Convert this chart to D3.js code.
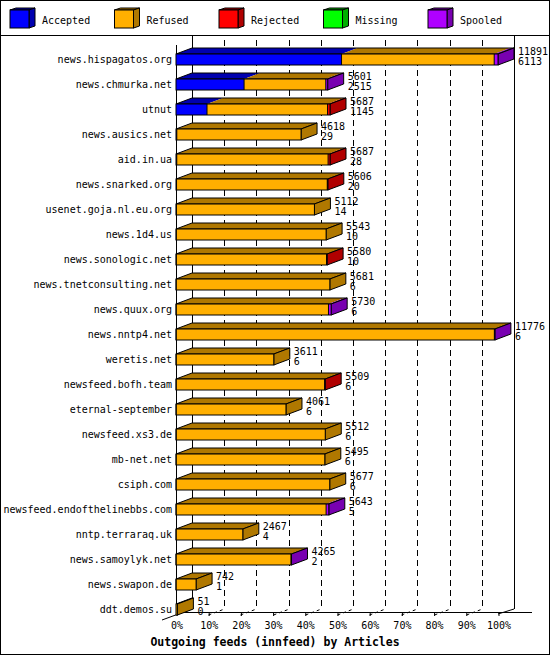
<!DOCTYPE html>
<html><head><meta charset="utf-8">
<script src="https://cdn.jsdelivr.net/npm/d3@7"></script>
<style>
html,body{margin:0;padding:0;background:#fff;}
text{font-family:"DejaVu Sans Mono",monospace;}
</style></head>
<body>
<svg id="c" width="550" height="655"></svg>
<script>
const hosts = ["news.hispagatos.org","news.chmurka.net","utnut","news.ausics.net","aid.in.ua","news.snarked.org","usenet.goja.nl.eu.org","news.1d4.us","news.sonologic.net","news.tnetconsulting.net","news.quux.org","news.nntp4.net","weretis.net","newsfeed.bofh.team","eternal-september","newsfeed.xs3.de","mb-net.net","csiph.com","newsfeed.endofthelinebbs.com","nntp.terraraq.uk","news.samoylyk.net","news.swapon.de","ddt.demos.su"];
const offered  = [11891,5601,5687,4618,5687,5606,5112,5543,5580,5681,5730,11776,3611,5509,4061,5512,5495,5677,5643,2467,4265,742,51];
const accepted = [6113,2515,1145,29,28,20,14,10,10,6,6,6,6,6,6,6,6,6,5,4,2,1,0];
const refused  = [5638,3016,4452,4589,5589,5566,5098,5533,5550,5675,5624,11750,3605,5483,4055,5506,5489,5671,5538,2463,4243,741,51];
const rejected = [0,0,90,0,70,20,0,0,20,0,0,0,0,20,0,0,0,0,0,0,0,0,0];
const missing  = [0,0,0,0,0,0,0,0,0,0,0,0,0,0,0,0,0,0,0,0,0,0,0];
const spooled  = [140,70,0,0,0,0,0,0,0,0,100,20,0,0,0,0,0,0,100,0,20,0,0];
const seriesNames = ["Accepted","Refused","Rejected","Missing","Spooled"];
const pctTicks = [0,10,20,30,40,50,60,70,80,90,100];
const title = "Outgoing feeds (innfeed) by Articles";

const front = ["#0000ff","#ffaf00","#ff0000","#00ff00","#af00ff"];
const dark  = ["#0000b0","#b07800","#b00000","#00b000","#7800b0"];
const series = [accepted, refused, rejected, missing, spooled];

const svg = d3.select("#c");
const DX = 16, DY = 6, BH = 11;
const X0 = 176, X1 = 498;
const maxV = d3.max(offered);
const xs = d3.scaleLinear().domain([0, maxV]).range([X0, X1]);
const xp = d3.scaleLinear().domain([0, 100]).range([X0, X1]);
const ys = d3.scaleBand().domain(hosts).range([47, 47 + 25*hosts.length]).paddingInner(0).paddingOuter(0);
const FLOOR = 612;

// frame
svg.append("rect").attr("x",0.5).attr("y",0.5).attr("width",549).attr("height",654).attr("fill","#fff").attr("stroke","#000");
svg.append("line").attr("x1",0).attr("x2",550).attr("y1",35.5).attr("y2",35.5).attr("stroke","#000");

// legend
seriesNames.forEach((n,k)=>{
  const x0 = 10 + 104.5*k, y0 = 10, w = 19, h = 18, dx = 6, dy = 2;
  const g = svg.append("g");
  g.append("polygon").attr("points",[[x0,y0],[x0+dx,y0-dy],[x0+w+dx,y0-dy],[x0+w,y0]].join(" ")).attr("fill",dark[k]).attr("stroke","#000");
  g.append("polygon").attr("points",[[x0+w,y0],[x0+w+dx,y0-dy],[x0+w+dx,y0+h-dy],[x0+w,y0+h]].join(" ")).attr("fill",dark[k]).attr("stroke","#000");
  g.append("rect").attr("x",x0).attr("y",y0).attr("width",w).attr("height",h).attr("fill",front[k]).attr("stroke","#000");
  g.append("text").attr("x",x0+32).attr("y",24).attr("font-size","10px").text(n);
});

// back wall lines
svg.append("line").attr("x1",X0+DX+0.5).attr("x2",X0+DX+0.5).attr("y1",36).attr("y2",FLOOR-3).attr("stroke","#000");
svg.append("line").attr("x1",X1+DX+0.5).attr("x2",X1+DX+0.5).attr("y1",36).attr("y2",FLOOR-3).attr("stroke","#000");
// dashed grid
pctTicks.filter(p=>p>0 && p<100).forEach(p=>{
  const xb = Math.round(xp(p)) + DX + 0.5;
  svg.append("line").attr("x1",xb).attr("x2",xb).attr("y1",40).attr("y2",FLOOR-3).attr("stroke","#000").attr("stroke-dasharray","6,4");
  svg.append("line").attr("x1",Math.round(xp(p))+0.5).attr("x2",xb).attr("y1",FLOOR+3).attr("y2",FLOOR-3).attr("stroke","#000").attr("stroke-dasharray","3,3");
});
// floor
svg.append("line").attr("x1",X0).attr("x2",532).attr("y1",FLOOR+0.5).attr("y2",FLOOR+0.5).attr("stroke","#000");
svg.append("line").attr("x1",X0-14).attr("x2",X0+DX).attr("y1",FLOOR+8).attr("y2",FLOOR-3).attr("stroke","#000");
svg.append("line").attr("x1",X1).attr("x2",X1+DX).attr("y1",FLOOR+2).attr("y2",FLOOR-3).attr("stroke","#000");
// front axis
svg.append("line").attr("x1",X0+0.5).attr("x2",X0+0.5).attr("y1",45).attr("y2",FLOOR+2).attr("stroke","#000");

// x axis labels
const ax = svg.append("g").attr("transform",`translate(0.5,${FLOOR})`)
  .call(d3.axisBottom(xp).tickValues(pctTicks).tickFormat(d=>d+"%").tickSize(4).tickPadding(6));
ax.select(".domain").remove();
ax.selectAll("line").attr("stroke","#000");
ax.selectAll("text").attr("font-size","10px").attr("font-family","DejaVu Sans Mono").attr("fill","#000");

// bars
hosts.forEach((h,i)=>{
  const top = ys(h) + 7, bot = top + BH;
  const g = svg.append("g");
  let cum = 0, last = -1;
  const segs = [];
  series.forEach((s,k)=>{
    const v = s[i];
    if (v > 0) { segs.push({k, a:cum, b:cum+v}); cum += v; last = k; }
  });
  segs.forEach(sg=>{
    const a = xs(sg.a), b = xs(sg.b);
    g.append("polygon").attr("points",[[a,top],[a+DX,top-DY],[b+DX,top-DY],[b,top]].join(" ")).attr("fill",dark[sg.k]);
  });
  const xe = xs(cum);
  g.append("polygon").attr("points",[[X0,top],[X0+DX,top-DY],[xe+DX,top-DY],[xe,top]].join(" ")).attr("fill","none").attr("stroke","#000");
  g.append("polygon").attr("points",[[xe,top],[xe+DX,top-DY],[xe+DX,bot-DY],[xe,bot]].join(" ")).attr("fill",dark[last]).attr("stroke","#000");
  segs.forEach(sg=>{
    g.append("rect").attr("x",xs(sg.a)).attr("y",top).attr("width",xs(sg.b)-xs(sg.a)).attr("height",BH)
      .attr("fill",front[sg.k]).attr("stroke","none");
  });
  segs.forEach((sg,j)=>{
    if (j>0) g.append("line").attr("x1",xs(sg.a)).attr("x2",xs(sg.a)).attr("y1",top).attr("y2",bot).attr("stroke","#000");
  });
  g.append("rect").attr("x",X0).attr("y",top).attr("width",xe-X0).attr("height",BH).attr("fill","none").attr("stroke","#000");
  svg.append("text").attr("x",172).attr("y",top+9).attr("text-anchor","end").attr("font-size","10px").text(h);
  svg.append("text").attr("x",xe+DX+4).attr("y",top+0.5).attr("font-size","10px").text(offered[i]);
  svg.append("text").attr("x",xe+DX+4).attr("y",top+11).attr("font-size","10px").text(accepted[i]);
});

svg.append("text").attr("x",275).attr("y",646).attr("text-anchor","middle").attr("font-size","11.5px").attr("font-weight","bold").text(title);
</script>
</body></html>
